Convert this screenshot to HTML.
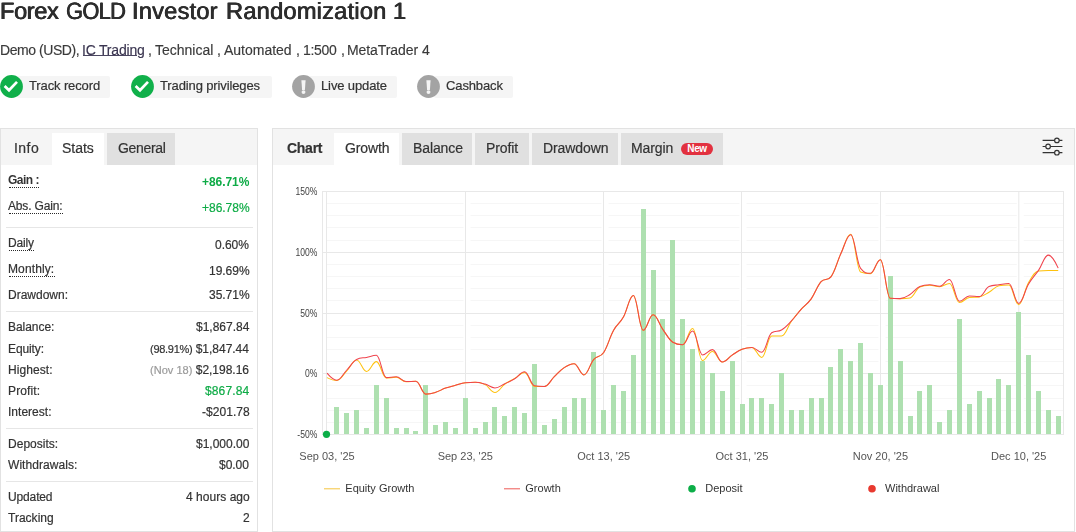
<!DOCTYPE html>
<html lang="en"><head><meta charset="utf-8"><title>Forex GOLD Investor Randomization 1</title>
<style>
html,body{margin:0;padding:0;background:#fff}
body{width:1076px;height:532px;position:relative;overflow:hidden;font-family:"Liberation Sans",Arial,sans-serif;color:#333}
.t{position:absolute;white-space:nowrap;will-change:transform}
.title{color:#2d2d2d;text-rendering:geometricPrecision;text-shadow:0.4px 0 0 #2d2d2d,-0.4px 0 0 #2d2d2d}
.sub{color:#3a3a3a;-webkit-text-stroke:0.15px}
.sub u{text-decoration:none;color:#3a3550}.ul{position:absolute;left:82.5px;top:55px;width:54px;height:1px;background:#4a4560}
.badge{position:absolute;top:75.5px;height:22px;background:#f5f5f5;border-radius:2px}
.ic{display:block}
.bt{color:#333;letter-spacing:-0.12px;-webkit-text-stroke:0.2px}
.panel{position:absolute;border:1px solid #e2e2e2;background:#fff}
.panel .bar{position:absolute;left:0;right:0;top:0;height:35.5px;background:#f5f5f5}
.tab{position:absolute;top:133px;height:31.5px}
.tt{color:#333;letter-spacing:-0.1px;-webkit-text-stroke:0.2px}
.new{position:absolute;left:681px;top:143px;width:32px;height:11.5px;border-radius:6px;background:#e2313f;color:#fff;font-size:10px;font-weight:700;line-height:11.5px;text-align:center;letter-spacing:-0.4px}
.rl{color:#333;letter-spacing:-0.05px;-webkit-text-stroke:0.2px}.rv{color:#333;letter-spacing:-0.02px;-webkit-text-stroke:0.2px}.sm{font-size:11px;letter-spacing:-0.28px}
.dot{position:absolute;left:9px;height:0;border-top:1px dotted #2a2a2a}
.sep{position:absolute;left:6px;width:247px;height:1px;background:#e6e6e6}
svg.chart{position:absolute;left:0;top:0}
</style></head>
<body>
<div class="t title" style="left:-0.2px;top:-4px;font-size:23.65px;line-height:30px;letter-spacing:-0.408px;transform:translateY(0.61px);">Forex</div>
<div class="t title" style="left:65.6px;top:-4px;font-size:23.65px;line-height:30px;transform:translateY(0.61px);"><span style="display:inline-block;transform-origin:0 0;transform:scaleX(0.9284);letter-spacing:-0.809px">GOLD</span></div>
<div class="t title" style="left:132.0px;top:-4px;font-size:23.65px;line-height:30px;letter-spacing:0.213px;transform:translateY(0.61px);">Investor</div>
<div class="t title" style="left:226.3px;top:-4px;font-size:23.65px;line-height:30px;letter-spacing:0.223px;transform:translateY(0.61px);">Randomization</div>
<div class="t title" style="left:392.6px;top:-4px;font-size:23.65px;line-height:30px;letter-spacing:-0.156px;transform:translateY(0.61px);">1</div>
<div class="ul"></div>
<div class="t sub" style="left:0.3px;top:40px;font-size:14px;line-height:18px;letter-spacing:-0.438px;transform:translateY(0.60px);">Demo (USD),</div>
<div class="t sub" style="left:82.2px;top:40px;font-size:14px;line-height:18px;letter-spacing:-0.199px;transform:translateY(0.60px);"><u>IC Trading</u></div>
<div class="t sub" style="left:148.1px;top:40px;font-size:14px;line-height:18px;transform:translateY(0.60px);">,</div>
<div class="t sub" style="left:155.2px;top:40px;font-size:14px;line-height:18px;letter-spacing:-0.008px;transform:translateY(0.60px);">Technical</div>
<div class="t sub" style="left:217.4px;top:40px;font-size:14px;line-height:18px;transform:translateY(0.60px);">,</div>
<div class="t sub" style="left:224.4px;top:40px;font-size:14px;line-height:18px;letter-spacing:-0.013px;transform:translateY(0.60px);">Automated</div>
<div class="t sub" style="left:295.7px;top:40px;font-size:14px;line-height:18px;transform:translateY(0.60px);">,</div>
<div class="t sub" style="left:303.2px;top:40px;font-size:14px;line-height:18px;letter-spacing:-0.289px;transform:translateY(0.60px);">1:500</div>
<div class="t sub" style="left:340.7px;top:40px;font-size:14px;line-height:18px;transform:translateY(0.60px);">,</div>
<div class="t sub" style="left:347.2px;top:40px;font-size:14px;line-height:18px;letter-spacing:-0.076px;transform:translateY(0.60px);">MetaTrader 4</div>
<div class="badge" style="left:17px;width:93px"></div><div style="position:absolute;left:0px;top:75px;width:23px;height:23px"><svg class="ic" width="23" height="23" viewBox="0 0 23 23"><circle cx="11.5" cy="11.5" r="11.4" fill="#10b04a"/><path d="M4.6,11l4.4,4.3l8-8.4" stroke="#fff" stroke-width="2.7" fill="none"/></svg></div><div class="t bt" style="left:29px;top:76px;font-size:13px;line-height:17px;transform:translateY(0.80px);">Track record</div>
<div class="badge" style="left:148px;width:124px"></div><div style="position:absolute;left:131px;top:75px;width:23px;height:23px"><svg class="ic" width="23" height="23" viewBox="0 0 23 23"><circle cx="11.5" cy="11.5" r="11.4" fill="#10b04a"/><path d="M4.6,11l4.4,4.3l8-8.4" stroke="#fff" stroke-width="2.7" fill="none"/></svg></div><div class="t bt" style="left:160px;top:76px;font-size:13px;line-height:17px;transform:translateY(0.80px);">Trading privileges</div>
<div class="badge" style="left:309px;width:88px"></div><div style="position:absolute;left:292px;top:75px;width:23px;height:23px"><svg class="ic" width="23" height="23" viewBox="0 0 23 23"><circle cx="11.5" cy="11.5" r="11.4" fill="#a3a3a3"/><path d="M9.4,5.2h4.2l-0.7,9.7h-2.8z" fill="#f4f4f4"/><circle cx="11.5" cy="17.1" r="1.95" fill="#f4f4f4"/></svg></div><div class="t bt" style="left:320.7px;top:76px;font-size:13px;line-height:17px;transform:translateY(0.80px);">Live update</div>
<div class="badge" style="left:434px;width:78.5px"></div><div style="position:absolute;left:417px;top:75px;width:23px;height:23px"><svg class="ic" width="23" height="23" viewBox="0 0 23 23"><circle cx="11.5" cy="11.5" r="11.4" fill="#a3a3a3"/><path d="M9.4,5.2h4.2l-0.7,9.7h-2.8z" fill="#f4f4f4"/><circle cx="11.5" cy="17.1" r="1.95" fill="#f4f4f4"/></svg></div><div class="t bt" style="left:446px;top:76px;font-size:13px;line-height:17px;transform:translateY(0.80px);">Cashback</div>
<div class="panel" style="left:0;top:128px;width:256px;height:402px"><div class="bar"></div></div>
<div class="panel" style="left:272px;top:128px;width:801px;height:402px"><div class="bar"></div></div>
<div class="tab" style="left:52px;width:52px;background:#fff"></div>
<div class="tab" style="left:107px;width:68px;background:#e0e0e0"></div>
<div class="t tt" style="left:14.0px;top:139px;font-size:14px;line-height:18px;letter-spacing:0.460px;transform:translateY(0.35px);">Info</div>
<div class="t tt" style="left:62.3px;top:139px;font-size:14px;line-height:18px;letter-spacing:-0.021px;transform:translateY(0.35px);">Stats</div>
<div class="t tt" style="left:117.5px;top:139px;font-size:14px;line-height:18px;letter-spacing:-0.330px;transform:translateY(0.35px);">General</div>
<div class="tab" style="left:334px;width:65px;background:#fff"></div>
<div class="tab" style="left:402px;width:70px;background:#e0e0e0"></div>
<div class="tab" style="left:475px;width:54px;background:#e0e0e0"></div>
<div class="tab" style="left:532px;width:86px;background:#e0e0e0"></div>
<div class="tab" style="left:621px;width:102px;background:#e0e0e0"></div>
<div class="t tt" style="left:286.5px;top:139px;font-size:14px;line-height:18px;letter-spacing:-0.272px;font-weight:700;transform:translateY(0.35px);">Chart</div>
<div class="t tt" style="left:344.5px;top:139px;font-size:14px;line-height:18px;transform:translateY(0.35px);">Growth</div>
<div class="t tt" style="left:412.5px;top:139px;font-size:14px;line-height:18px;transform:translateY(0.35px);">Balance</div>
<div class="t tt" style="left:485.7px;top:139px;font-size:14px;line-height:18px;transform:translateY(0.35px);">Profit</div>
<div class="t tt" style="left:542.5px;top:139px;font-size:14px;line-height:18px;transform:translateY(0.35px);">Drawdown</div>
<div class="t tt" style="left:631.2px;top:139px;font-size:14px;line-height:18px;transform:translateY(0.35px);">Margin</div>
<div class="new">New</div>
<div class="t rl" style="left:8.1px;top:172px;font-size:12px;line-height:16px;font-weight:700;-webkit-text-stroke:0;letter-spacing:-0.519px;font-weight:700;transform:translateY(0.14px);">Gain :</div>
<div class="dot" style="top:187px;width:30.4px"></div>
<div class="t rv" style="right:826.6px;top:173px;font-size:12px;line-height:16px;font-weight:700;-webkit-text-stroke:0;color:#0eab46;letter-spacing:-0.060px;font-weight:700;transform:translateY(0.64px);">+86.71%</div>
<div class="t rl" style="left:8.1px;top:198px;font-size:12px;line-height:16px;letter-spacing:-0.173px;transform:translateY(0.14px);">Abs. Gain:</div>
<div class="dot" style="top:213px;width:53.8px"></div>
<div class="t rv" style="right:826.6px;top:199px;font-size:12px;line-height:16px;color:#0eab46;transform:translateY(0.64px);">+86.78%</div>
<div class="t rl" style="left:8.1px;top:235px;font-size:12px;line-height:16px;letter-spacing:-0.174px;transform:translateY(0.14px);">Daily</div>
<div class="dot" style="top:250px;width:25.3px"></div>
<div class="t rv" style="right:826.6px;top:236px;font-size:12px;line-height:16px;transform:translateY(0.64px);">0.60%</div>
<div class="t rl" style="left:8.1px;top:261px;font-size:12px;line-height:16px;letter-spacing:0.118px;transform:translateY(0.14px);">Monthly:</div>
<div class="dot" style="top:276px;width:45.8px"></div>
<div class="t rv" style="right:826.6px;top:263px;font-size:12px;line-height:16px;transform:translateY(0.04px);">19.69%</div>
<div class="t rl" style="left:8.1px;top:287px;font-size:12px;line-height:16px;letter-spacing:-0.003px;transform:translateY(0.04px);">Drawdown:</div>
<div class="t rv" style="right:826.6px;top:287px;font-size:12px;line-height:16px;transform:translateY(0.04px);">35.71%</div>
<div class="t rl" style="left:8.1px;top:319px;font-size:12px;line-height:16px;letter-spacing:-0.038px;transform:translateY(0.04px);">Balance:</div>
<div class="t rv" style="right:826.6px;top:319px;font-size:12px;line-height:16px;letter-spacing:-0.010px;transform:translateY(0.04px);">$1,867.84</div>
<div class="t rl" style="left:8.1px;top:340px;font-size:12px;line-height:16px;letter-spacing:-0.113px;transform:translateY(0.64px);">Equity:</div>
<div class="t rv" style="right:826.6px;top:340px;font-size:12px;line-height:16px;transform:translateY(0.64px);"><span class="sm">(98.91%)</span> $1,847.44</div>
<div class="t rl" style="left:8.1px;top:361px;font-size:12px;line-height:16px;letter-spacing:0.084px;transform:translateY(0.74px);">Highest:</div>
<div class="t rv" style="right:826.6px;top:361px;font-size:12px;line-height:16px;transform:translateY(0.74px);"><span class="sm" style="color:#9a9a9a;letter-spacing:0.03px">(Nov 18)</span> $2,198.16</div>
<div class="t rl" style="left:8.1px;top:382px;font-size:12px;line-height:16px;letter-spacing:0.137px;transform:translateY(0.94px);">Profit:</div>
<div class="t rv" style="right:826.6px;top:382px;font-size:12px;line-height:16px;color:#0eab46;letter-spacing:0.130px;transform:translateY(0.94px);">$867.84</div>
<div class="t rl" style="left:8.1px;top:403px;font-size:12px;line-height:16px;letter-spacing:0.016px;transform:translateY(0.94px);">Interest:</div>
<div class="t rv" style="right:826.6px;top:403px;font-size:12px;line-height:16px;letter-spacing:0.053px;transform:translateY(0.94px);">-$201.78</div>
<div class="t rl" style="left:8.1px;top:436px;font-size:12px;line-height:16px;letter-spacing:0.019px;transform:translateY(0.04px);">Deposits:</div>
<div class="t rv" style="right:826.6px;top:436px;font-size:12px;line-height:16px;letter-spacing:-0.010px;transform:translateY(0.04px);">$1,000.00</div>
<div class="t rl" style="left:8.1px;top:456px;font-size:12px;line-height:16px;letter-spacing:0.059px;transform:translateY(0.94px);">Withdrawals:</div>
<div class="t rv" style="right:826.6px;top:456px;font-size:12px;line-height:16px;transform:translateY(0.94px);">$0.00</div>
<div class="t rl" style="left:8.1px;top:489px;font-size:12px;line-height:16px;letter-spacing:-0.139px;transform:translateY(0.04px);">Updated</div>
<div class="t rv" style="right:826.6px;top:489px;font-size:12px;line-height:16px;letter-spacing:0.037px;transform:translateY(0.04px);">4 hours ago</div>
<div class="t rl" style="left:8.1px;top:510px;font-size:12px;line-height:16px;letter-spacing:0.015px;transform:translateY(0.04px);">Tracking</div>
<div class="t rv" style="right:826.6px;top:510px;font-size:12px;line-height:16px;transform:translateY(0.04px);">2</div>
<div class="sep" style="top:227px"></div>
<div class="sep" style="top:311px"></div>
<div class="sep" style="top:428px"></div>
<div class="sep" style="top:481px"></div>
<svg class="chart" width="1076" height="532" viewBox="0 0 1076 532">
<path d="M326.5,203.5H1063.5M326.5,215.5H1063.5M326.5,227.5H1063.5M326.5,240.5H1063.5M326.5,264.5H1063.5M326.5,276.5H1063.5M326.5,288.5H1063.5M326.5,300.5H1063.5M326.5,325.5H1063.5M326.5,337.5H1063.5M326.5,349.5H1063.5M326.5,361.5H1063.5M326.5,385.5H1063.5M326.5,398.5H1063.5M326.5,410.5H1063.5M326.5,422.5H1063.5" stroke="#f6f6f6" stroke-width="1" fill="none"/>
<path d="M463.5,192h7v242h-7zM601.5,192h7v242h-7zM739.5,192h7v242h-7zM878.5,192h7v242h-7zM1016.8,192h7v242h-7z" fill="#fff"/>
<path d="M322.5,191.5H1063.5M322.5,252.5H1063.5M322.5,313.5H1063.5M322.5,373.5H1063.5M322.5,434.5H1063.5M326.5,191V435M465.5,191V435M603.5,191V435M741.5,191V435M880.5,191V435M1018.8,191V435M322.5,191V435M1063.5,191V435" stroke="#e8e8e8" stroke-width="1" fill="none"/>
<path d="M334,434v-27h5v27zM344,434v-21h5v21zM354,434v-24h5v24zM364,434v-6h5v6zM374,434v-49h5v49zM384,434v-36h5v36zM394,434v-6h5v6zM404,434v-6h5v6zM413,434v-3h5v3zM423,434v-49h5v49zM433,434v-9h5v9zM443,434v-12h5v12zM453,434v-6h5v6zM463,434v-36h5v36zM473,434v-6h5v6zM483,434v-12h5v12zM492,434v-27h5v27zM502,434v-18h5v18zM512,434v-27h5v27zM522,434v-21h5v21zM532,434v-70h5v70zM542,434v-9h5v9zM552,434v-15h5v15zM562,434v-27h5v27zM572,434v-36h5v36zM581,434v-36h5v36zM591,434v-82h5v82zM601,434v-24h5v24zM611,434v-49h5v49zM621,434v-43h5v43zM631,434v-79h5v79zM641,434v-225h5v225zM651,434v-164h5v164zM660,434v-115h5v115zM670,434v-194h5v194zM680,434v-115h5v115zM690,434v-85h5v85zM700,434v-73h5v73zM710,434v-61h5v61zM720,434v-43h5v43zM730,434v-73h5v73zM740,434v-30h5v30zM749,434v-36h5v36zM759,434v-36h5v36zM769,434v-30h5v30zM779,434v-61h5v61zM789,434v-24h5v24zM799,434v-24h5v24zM809,434v-36h5v36zM819,434v-36h5v36zM828,434v-67h5v67zM838,434v-85h5v85zM848,434v-73h5v73zM858,434v-91h5v91zM868,434v-61h5v61zM878,434v-49h5v49zM888,434v-158h5v158zM898,434v-73h5v73zM908,434v-18h5v18zM917,434v-43h5v43zM927,434v-49h5v49zM937,434v-12h5v12zM947,434v-24h5v24zM957,434v-115h5v115zM967,434v-30h5v30zM977,434v-43h5v43zM987,434v-36h5v36zM996,434v-55h5v55zM1006,434v-49h5v49zM1016,434v-122h5v122zM1026,434v-79h5v79zM1036,434v-43h5v43zM1046,434v-24h5v24zM1056,434v-18h5v18z" fill="#aee0b0"/>
<path d="M327.0,377.6C327.0,377.6 332.9,380.5 336.9,380.5C340.8,380.5 342.8,375.1 346.8,371.0C350.7,366.9 352.7,360.0 356.6,360.0C360.6,360.0 362.6,371.4 366.5,371.4C370.5,371.4 372.5,361.6 376.4,361.6C380.4,361.6 382.3,377.9 386.3,377.9C390.2,377.9 392.2,377.3 396.2,377.3C400.1,377.3 402.1,381.8 406.1,381.8C410.0,381.8 412.0,381.3 415.9,381.3C419.9,381.3 421.9,394.1 425.8,394.1C429.8,394.1 431.7,393.5 435.7,392.3C439.6,391.1 441.6,389.5 445.6,388.1C449.5,386.7 451.5,386.4 455.5,385.3C459.4,384.2 461.4,383.1 465.3,382.7C469.3,382.3 471.3,382.3 475.2,382.3C479.2,382.3 481.1,382.6 485.1,384.6C489.1,386.6 491.0,392.5 495.0,392.5C498.9,392.5 500.9,386.8 504.9,384.0C508.8,381.2 510.8,380.7 514.7,378.4C518.7,376.1 520.7,372.5 524.6,372.5C528.6,372.5 530.6,386.5 534.5,386.5C538.5,386.5 540.4,386.5 544.4,386.5C548.3,386.5 550.3,380.5 554.3,376.7C558.2,372.9 560.2,370.2 564.2,367.6C568.1,365.0 570.1,363.7 574.0,363.7C578.0,363.7 580.0,374.9 583.9,374.9C587.9,374.9 589.8,363.8 593.8,359.3C597.7,354.8 599.7,358.3 603.7,352.5C607.6,346.7 609.6,337.4 613.6,330.3C617.5,323.2 619.5,324.1 623.4,317.1C627.4,310.1 629.4,295.5 633.3,295.5C637.3,295.5 639.2,330.3 643.2,330.3C647.2,330.3 649.1,314.7 653.1,314.7C657.0,314.7 659.0,324.1 663.0,329.6C666.9,335.1 668.9,339.7 672.8,342.2C676.8,344.7 678.8,344.7 682.7,344.7C686.7,344.7 688.7,328.5 692.6,328.5C696.6,328.5 698.5,360.5 702.5,360.5C706.4,360.5 708.4,351.4 712.4,351.4C716.3,351.4 718.3,362.0 722.3,362.0C726.2,362.0 728.2,357.7 732.1,355.1C736.1,352.5 738.1,350.7 742.0,349.2C746.0,347.7 747.9,347.4 751.9,347.4C755.8,347.4 757.8,357.4 761.8,357.4C765.7,357.4 767.7,336.0 771.7,336.0C775.6,336.0 777.6,336.0 781.5,336.0C785.5,336.0 787.5,326.6 791.4,321.2C795.4,315.8 797.3,313.6 801.3,309.1C805.3,304.6 807.2,304.4 811.2,298.9C815.1,293.4 817.1,286.1 821.1,281.7C825.0,277.3 827.0,281.7 830.9,276.8C834.9,271.9 836.9,262.3 840.8,253.8C844.8,245.3 846.8,234.3 850.7,234.3C854.7,234.3 856.6,270.2 860.6,271.9C864.5,273.6 866.5,273.6 870.5,273.6C874.4,273.6 876.4,259.7 880.4,259.7C884.3,259.7 886.3,298.0 890.2,298.3C894.2,298.6 896.2,298.6 900.1,298.6C904.1,298.6 906.0,298.6 910.0,298.0C913.9,297.4 915.9,288.5 919.9,286.9C923.8,285.3 925.8,285.3 929.8,285.3C933.7,285.3 935.7,286.7 939.6,286.7C943.6,286.7 945.6,283.5 949.5,283.5C953.5,283.5 955.5,302.4 959.4,302.4C963.4,302.4 965.3,298.1 969.3,297.5C973.2,296.9 975.2,297.5 979.2,296.9C983.1,296.3 985.1,294.4 989.0,292.2C993.0,290.0 995.0,286.5 998.9,285.7C1002.9,284.9 1004.9,284.9 1008.8,284.9C1012.8,284.9 1014.7,304.6 1018.7,304.6C1022.6,304.6 1024.6,289.3 1028.6,282.6C1032.5,275.9 1034.5,271.5 1038.5,271.0C1042.4,270.5 1044.4,270.5 1048.3,270.5C1052.3,270.5 1058.2,270.5 1058.2,270.5" stroke="#fec20f" stroke-width="1.05" fill="none" stroke-linejoin="round"/>
<path d="M327.0,373.2C327.0,373.2 332.9,380.2 336.9,380.2C340.8,380.2 342.8,374.1 346.8,370.0C350.7,365.9 352.7,361.6 356.6,359.5C360.6,357.4 362.6,358.2 366.5,357.4C370.5,356.6 372.5,355.3 376.4,355.3C380.4,355.3 382.3,377.6 386.3,377.6C390.2,377.6 392.2,376.7 396.2,376.7C400.1,376.7 402.1,381.5 406.1,381.5C410.0,381.5 412.0,381.3 415.9,381.3C419.9,381.3 421.9,394.1 425.8,394.1C429.8,394.1 431.7,393.5 435.7,392.3C439.6,391.1 441.6,389.5 445.6,388.1C449.5,386.7 451.5,386.4 455.5,385.3C459.4,384.2 461.4,383.1 465.3,382.7C469.3,382.3 471.3,382.3 475.2,382.3C479.2,382.3 481.1,383.0 485.1,384.1C489.1,385.2 491.0,387.9 495.0,387.9C498.9,387.9 500.9,385.5 504.9,383.7C508.8,381.9 510.8,381.2 514.7,378.8C518.7,376.4 520.7,371.8 524.6,371.8C528.6,371.8 530.6,385.1 534.5,385.8C538.5,386.5 540.4,386.5 544.4,386.5C548.3,386.5 550.3,380.5 554.3,376.7C558.2,372.9 560.2,370.2 564.2,367.6C568.1,365.0 570.1,363.7 574.0,363.7C578.0,363.7 580.0,374.9 583.9,374.9C587.9,374.9 589.8,363.8 593.8,359.3C597.7,354.8 599.7,358.3 603.7,352.5C607.6,346.7 609.6,337.4 613.6,330.3C617.5,323.2 619.5,324.1 623.4,317.1C627.4,310.1 629.4,295.5 633.3,295.5C637.3,295.5 639.2,330.3 643.2,330.3C647.2,330.3 649.1,314.7 653.1,314.7C657.0,314.7 659.0,324.1 663.0,329.6C666.9,335.1 668.9,339.7 672.8,342.2C676.8,344.7 678.8,344.7 682.7,344.7C686.7,344.7 688.7,331.0 692.6,331.0C696.6,331.0 698.5,354.9 702.5,354.9C706.4,354.9 708.4,349.6 712.4,349.6C716.3,349.6 718.3,362.0 722.3,362.0C726.2,362.0 728.2,357.7 732.1,355.1C736.1,352.5 738.1,350.7 742.0,349.2C746.0,347.7 747.9,347.4 751.9,347.4C755.8,347.4 757.8,352.3 761.8,352.3C765.7,352.3 767.7,335.6 771.7,332.8C775.6,330.0 777.6,332.4 781.5,330.0C785.5,327.6 787.5,325.1 791.4,320.9C795.4,316.7 797.3,313.5 801.3,309.1C805.3,304.7 807.2,304.4 811.2,298.9C815.1,293.4 817.1,286.1 821.1,281.7C825.0,277.3 827.0,281.7 830.9,276.8C834.9,271.9 836.9,262.2 840.8,253.8C844.8,245.4 846.8,234.7 850.7,234.7C854.7,234.7 856.6,263.5 860.6,268.4C864.5,273.3 866.5,273.3 870.5,273.3C874.4,273.3 876.4,259.7 880.4,259.7C884.3,259.7 886.3,298.0 890.2,298.3C894.2,298.6 896.2,298.6 900.1,298.6C904.1,298.6 906.0,296.9 910.0,294.5C913.9,292.1 915.9,288.2 919.9,286.5C923.8,284.8 925.8,284.8 929.8,284.8C933.7,284.8 935.7,286.3 939.6,286.3C943.6,286.3 945.6,279.4 949.5,279.4C953.5,279.4 955.5,301.3 959.4,301.3C963.4,301.3 965.3,296.0 969.3,296.0C973.2,296.0 975.2,296.6 979.2,296.6C983.1,296.6 985.1,288.4 989.0,286.6C993.0,284.8 995.0,285.4 998.9,284.8C1002.9,284.2 1004.9,283.5 1008.8,283.5C1012.8,283.5 1014.7,303.4 1018.7,303.4C1022.6,303.4 1024.6,290.6 1028.6,284.0C1032.5,277.4 1034.5,276.2 1038.5,270.4C1042.4,264.6 1044.4,255.1 1048.3,255.1C1052.3,255.1 1058.2,268.1 1058.2,268.1" stroke="#f0434d" stroke-width="1.05" fill="none" stroke-linejoin="round"/>
<circle cx="326.5" cy="434.3" r="3.6" fill="#0cae48"/>
<g font-family="'Liberation Sans',Arial,sans-serif" font-size="10" fill="#3f3f3f" text-anchor="end">
<text transform="translate(317.4,195.1) scale(0.86,1)">150%</text>
<text transform="translate(317.4,256.1) scale(0.86,1)">100%</text>
<text transform="translate(317.4,317.1) scale(0.86,1)">50%</text>
<text transform="translate(317.4,377.1) scale(0.86,1)">0%</text>
<text transform="translate(317.4,438.1) scale(0.86,1)">-50%</text>
</g>
<g font-family="'Liberation Sans',Arial,sans-serif" font-size="11" fill="#555" text-anchor="middle">
<text x="327.0" y="460">Sep 03, '25</text>
<text x="465.3" y="460">Sep 23, '25</text>
<text x="603.7" y="460">Oct 13, '25</text>
<text x="742.0" y="460">Oct 31, '25</text>
<text x="880.4" y="460">Nov 20, '25</text>
<text x="1018.7" y="460">Dec 10, '25</text>
</g>
<g font-family="'Liberation Sans',Arial,sans-serif" font-size="11" fill="#333">
<path d="M324,488.75h16" stroke="#f8d26a" stroke-width="1.3"/><text x="345.3" y="492">Equity Growth</text>
<path d="M504,488.75h16" stroke="#f27f7c" stroke-width="1.3"/><text x="525.3" y="492">Growth</text>
<circle cx="692" cy="488.75" r="3.8" fill="#0cae48"/><text x="705.3" y="492">Deposit</text>
<circle cx="872" cy="488.75" r="3.8" fill="#e8392f"/><text x="885" y="492">Withdrawal</text>
</g>
<g stroke="#333" stroke-width="1.2" fill="#f5f5f5"><path d="M1042.6,140.4h19.8M1042.6,146.5h19.8M1042.6,152.7h19.8"/><circle cx="1056.9" cy="140.4" r="2.3"/><circle cx="1048.1" cy="146.5" r="2.3"/><circle cx="1056.9" cy="152.7" r="2.3"/></g>
</svg>
</body></html>
